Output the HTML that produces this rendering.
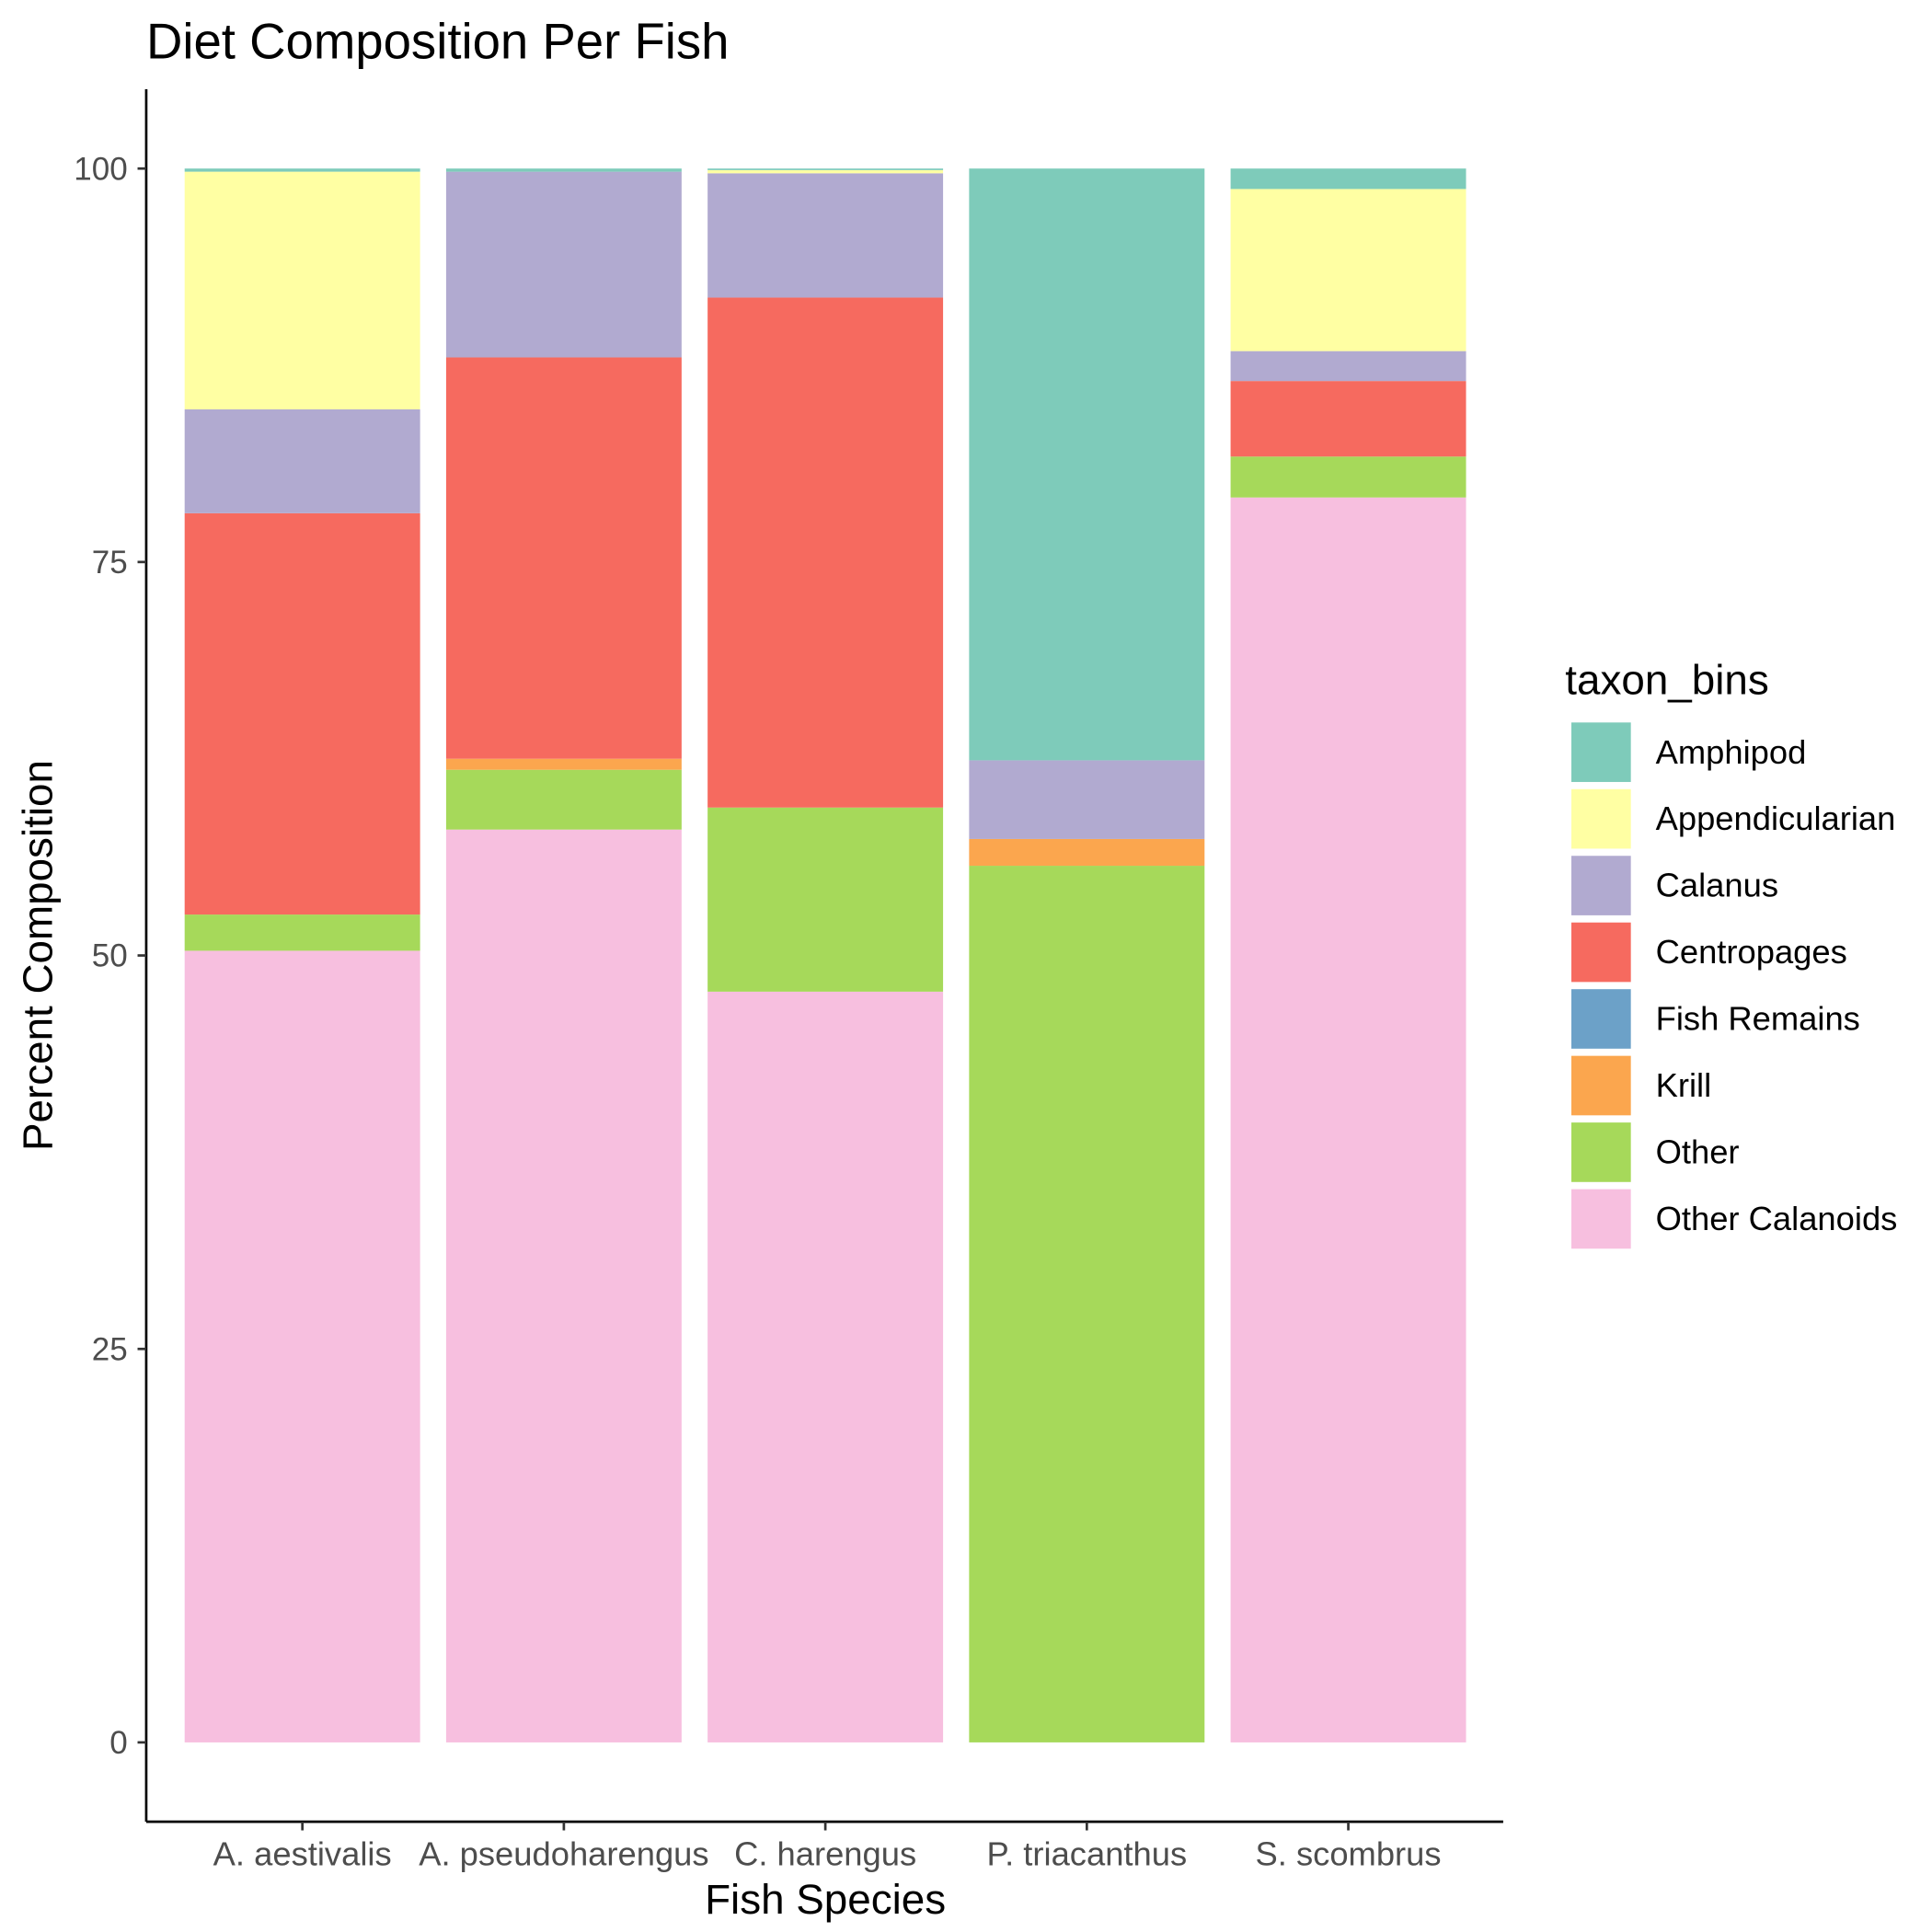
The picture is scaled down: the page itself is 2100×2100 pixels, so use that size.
<!DOCTYPE html>
<html><head><meta charset="utf-8"><style>html,body{margin:0;padding:0;background:#fff}svg{display:block}</style></head>
<body>
<svg id="chart" width="2100" height="2100" viewBox="0 0 1559 1559" xmlns="http://www.w3.org/2000/svg" font-family="Liberation Sans, Arial, sans-serif">
<rect width="1559" height="1559" fill="#fff"/>
<text x="118" y="47" font-size="40.5" fill="#000">Diet Composition Per Fish</text>
<g id="bars"></g>
<g id="axes"></g>
<g id="legend"></g>
</svg>
<script>
const categories = ["A. aestivalis","A. pseudoharengus","C. harengus","P. triacanthus","S. scombrus"];
const taxa = ["Amphipod","Appendicularian","Calanus","Centropages","Fish Remains","Krill","Other","Other Calanoids"];
const colors = ["#7ECBBA","#FFFFA3","#B1AAD0","#F66A5F","#6CA1C8","#FBA64E","#A6D95A","#F7BFDF"];
// values per taxon, one per category
const amphipod        = [0.2, 0.2, 0.1, 37.6, 1.3];
const appendicularian = [15.1, 0, 0.2, 0, 10.3];
const calanus         = [6.6, 11.8, 7.9, 5.0, 1.9];
const centropages     = [25.5, 25.5, 32.4, 0, 4.8];
const fishRemains     = [0, 0, 0, 0, 0];
const krill           = [0, 0.7, 0, 1.7, 0];
const other           = [2.3, 3.8, 11.7, 55.7, 2.6];
const otherCalanoids  = [50.3, 58.0, 47.7, 0, 79.1];
const yTicks = [0, 25, 50, 75, 100];

const series = [amphipod, appendicularian, calanus, centropages, fishRemains, krill, other, otherCalanoids];
const NS = "http://www.w3.org/2000/svg";
function mk(tag, attrs, parent){const e=document.createElementNS(NS,tag);for(const k in attrs)e.setAttribute(k,attrs[k]);parent.appendChild(e);return e;}
const y = v => 1406 - v*12.7;
const x = i => 244 + i*211;
const bw = 190;

const bars = document.getElementById("bars");
categories.forEach((c, i) => {
  let cum = 0;
  for (let s = series.length - 1; s >= 0; s--) {
    const v = series[s][i];
    if (v <= 0) continue;
    const r = mk("rect", {x: x(i)-bw/2, y: y(cum+v), width: bw, height: y(cum)-y(cum+v), fill: colors[s]}, bars);
    
    
    cum += v;
  }
});

const axes = document.getElementById("axes");
let l = mk("line", {x1:118, y1:72, x2:118, y2:1470, stroke:"#000", "stroke-width":2}, axes);


l = mk("line", {x1:118, y1:1470, x2:1213, y2:1470, stroke:"#000", "stroke-width":2}, axes);


yTicks.forEach(t => {
  mk("line", {x1:111, y1:y(t), x2:118, y2:y(t), stroke:"#333", "stroke-width":2}, axes);
  const tx = mk("text", {x:103, y:y(t)+9, "font-size":26, fill:"#4d4d4d", "text-anchor":"end"}, axes);
  tx.textContent = t;
  
  
});
categories.forEach((c, i) => {
  mk("line", {x1:x(i), y1:1470, x2:x(i), y2:1477, stroke:"#333", "stroke-width":2}, axes);
  const tx = mk("text", {x:x(i), y:1505, "font-size":27, fill:"#4d4d4d", "text-anchor":"middle"}, axes);
  tx.textContent = c;
  
  
});
let t = mk("text", {x:666, y:1544, "font-size":34, fill:"#000", "text-anchor":"middle"}, axes);
t.textContent = "Fish Species";


t = mk("text", {x:0, y:0, "font-size":34, fill:"#000", "text-anchor":"middle", transform:"translate(42,771) rotate(-90)"}, axes);
t.textContent = "Percent Composition";



const legend = document.getElementById("legend");
t = mk("text", {x:1263, y:560, "font-size":34, fill:"#000"}, legend);
t.textContent = "taxon_bins";


taxa.forEach((name, k) => {
  const g = mk("g", {}, legend);
  
  
  mk("rect", {x:1268, y:583+k*53.8, width:48, height:48, fill:colors[k]}, g);
  const tx = mk("text", {x:1336, y:616+k*53.8, "font-size":27, fill:"#000"}, g);
  tx.textContent = name;
});
</script>
</body></html>
